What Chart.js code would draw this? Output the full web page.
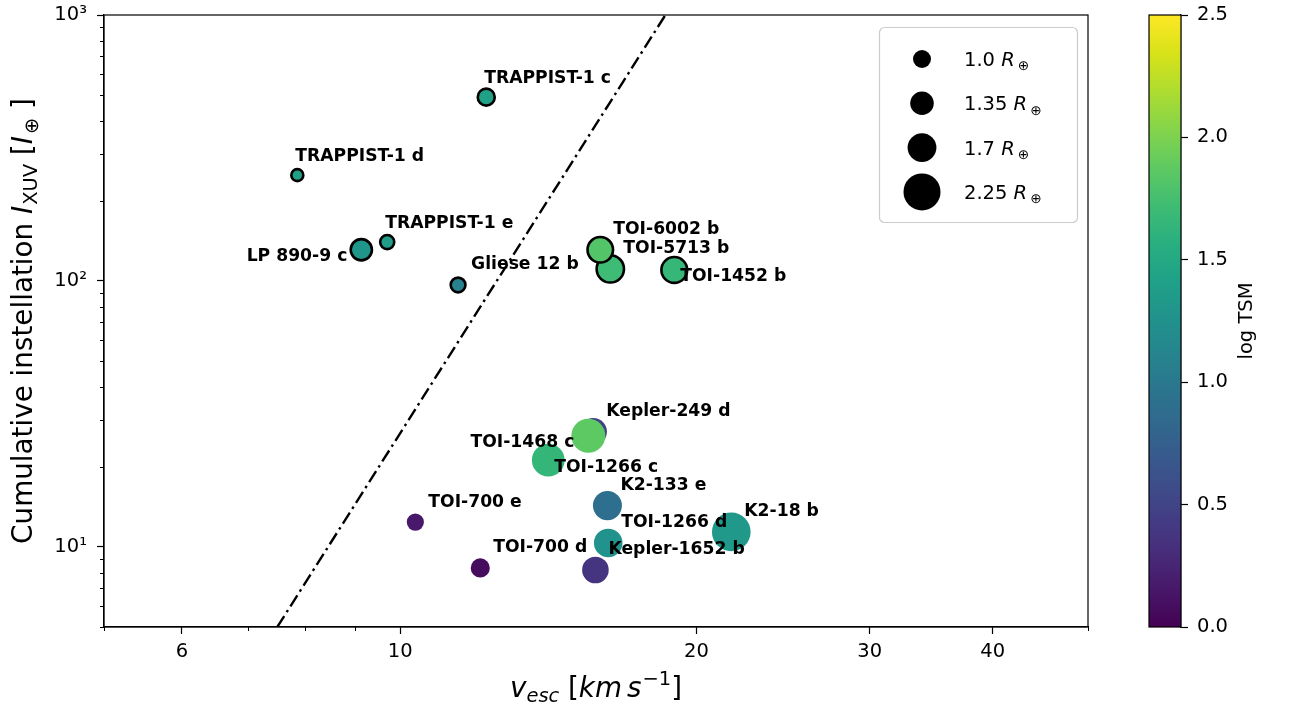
<!DOCTYPE html>
<html>
<head>
<meta charset="utf-8">
<script src="https://cdn.jsdelivr.net/npm/chart.js@4.4.1/dist/chart.umd.min.js"></script>
<style>
  html, body { margin: 0; padding: 0; background: #ffffff; }
  #wrap { width: 1289px; height: 709px; position: relative; }
  canvas { display: block; }
</style>
</head>
<body>
<div id="wrap"><canvas id="c" width="1289" height="709"></canvas></div>
<script>
// ---------------- DATA ----------------
const planetNames = ['TRAPPIST-1 d', 'TRAPPIST-1 e', 'LP 890-9 c', 'Gliese 12 b', 'TRAPPIST-1 c',
  'TOI-5713 b', 'TOI-6002 b', 'TOI-1452 b', 'TOI-700 e', 'TOI-700 d', 'Kepler-249 d',
  'TOI-1468 c', 'TOI-1266 c', 'K2-133 e', 'TOI-1266 d', 'Kepler-1652 b', 'K2-18 b'];
const vEsc = [7.86, 9.70, 9.13, 11.45, 12.23, 16.35, 15.97, 18.99, 10.36, 12.06, 15.71,
  15.53, 14.14, 16.24, 16.27, 15.79, 21.70];
const iXuv = [250, 140, 131, 96.6, 491, 111, 131, 110, 12.4, 8.34, 27.1,
  26.2, 21.2, 14.3, 10.35, 8.19, 11.39];
const radiusEarth = [0.79, 0.92, 1.37, 0.96, 1.10, 1.77, 1.65, 1.67, 0.95, 1.07, 1.60,
  2.05, 1.95, 1.71, 1.68, 1.55, 2.36];
const logTSM = [1.42, 1.36, 1.30, 1.08, 1.42, 1.71, 1.82, 1.66, 0.16, 0.08, 0.47,
  1.87, 1.65, 0.90, 1.26, 0.37, 1.32];
const outlined = [true, true, true, true, true, true, true, true, false, false, false,
  false, false, false, false, false, false];

// dash-dot boundary line
const shoreV = [7.5, 18.6];
const shoreI = [5, 1000];

// size legend
const legendRadii = [1.0, 1.35, 1.7, 2.25];
const legendLabels = ['1.0', '1.35', '1.7', '2.25'];

// ticks
const xMajorTicks = [6, 10, 20, 30, 40];
const xMinorTicks = [5, 7, 8, 9, 50];
const yMajorTicks = [10, 100, 1000];
const yMinorTicks = [5, 6, 7, 8, 9, 20, 30, 40, 50, 60, 70, 80, 90, 200, 300, 400, 500, 600, 700, 800, 900];

// ---------------- STYLE ----------------
const FONT = '"DejaVu Sans"';
const TICK_SIZE = 19.5;
const LABEL_SIZE = 27.8;
const ANN_SIZE = 17.2;
const LEG_SIZE = 19.5;

// label placement (annotation style), default 'upright'
const labelPlacement = {
  'TRAPPIST-1 c': 'above', 'TRAPPIST-1 d': 'above', 'TRAPPIST-1 e': 'above',
  'LP 890-9 c': 'left', 'TOI-1468 c': 'left',
  'TOI-1452 b': 'right', 'TOI-1266 c': 'right'
};
const PLACE = {
  upright: { dx: 13, dy: -20, align: 'left' },
  above:   { dx: -2, dy: -19, align: 'left' },
  left:    { dx: -14, dy: 7, align: 'right' },
  right:   { dx: 6, dy: 7, align: 'left' }
};

const VIRIDIS = ['#440154', '#48186a', '#472d7b', '#424086', '#3b528b', '#33638d', '#2c728e',
  '#26828e', '#21918c', '#1fa088', '#28ae80', '#3fbc73', '#5ec962', '#84d44b', '#addc30',
  '#d8e219', '#fde725'];
function hexToRgb(h) { return [parseInt(h.slice(1, 3), 16), parseInt(h.slice(3, 5), 16), parseInt(h.slice(5, 7), 16)]; }
function viridis(t) {
  t = Math.max(0, Math.min(1, t));
  const f = t * (VIRIDIS.length - 1);
  const i = Math.min(VIRIDIS.length - 2, Math.floor(f));
  const r = f - i;
  const a = hexToRgb(VIRIDIS[i]), b = hexToRgb(VIRIDIS[i + 1]);
  const c = a.map((v, k) => Math.round(v + (b[k] - v) * r));
  return `rgb(${c[0]},${c[1]},${c[2]})`;
}
const CB_MIN = 0, CB_MAX = 2.5;
function outerRadius(R) { return 9 * Math.pow(R, 0.89); }
const EDGE_W = 2.6;

// ---------------- rich text helper ----------------
function segFont(s, base) {
  const size = base * (s.scale || 1);
  return `${s.italic ? 'italic ' : ''}${s.bold ? 'bold ' : ''}${size}px ${FONT}`;
}
function drawRich(ctx, segs, x, y, rot, base, align) {
  ctx.save();
  ctx.translate(x, y);
  ctx.rotate(rot);
  ctx.textBaseline = 'alphabetic';
  ctx.textAlign = 'left';
  let w = 0;
  segs.forEach(s => { ctx.font = segFont(s, base); w += ctx.measureText(s.t).width + (s.gap || 0); });
  let cx = align === 'left' ? 0 : -w / 2;
  segs.forEach(s => {
    ctx.font = segFont(s, base);
    cx += (s.gap || 0);
    ctx.fillText(s.t, cx, (s.dy || 0) * base);
    cx += ctx.measureText(s.t).width;
  });
  ctx.restore();
}

// ---------------- plugins ----------------
const decorations = {
  id: 'decorations',
  beforeDatasetsDraw(chart) {
    const { ctx, scales } = chart;
    const cb = scales.cb;
    const bw = 32;
    const g = ctx.createLinearGradient(0, cb.bottom, 0, cb.top);
    for (let k = 0; k <= 64; k++) g.addColorStop(k / 64, viridis(k / 64));
    ctx.save();
    ctx.fillStyle = g;
    ctx.fillRect(cb.left - bw, cb.top, bw, cb.bottom - cb.top);
    ctx.strokeStyle = '#000';
    ctx.lineWidth = 1.2;
    ctx.strokeRect(cb.left - bw, cb.top, bw, cb.bottom - cb.top);
    ctx.restore();
  },
  afterDatasetsDraw(chart) {
    const { ctx, scales: { x, y } } = chart;
    ctx.save();
    ctx.font = `bold ${ANN_SIZE}px ${FONT}`;
    ctx.fillStyle = '#000';
    ctx.textBaseline = 'middle';
    planetNames.forEach((n, i) => {
      const px = x.getPixelForValue(vEsc[i]);
      const py = y.getPixelForValue(iXuv[i]);
      const p = PLACE[labelPlacement[n] || 'upright'];
      ctx.textAlign = p.align;
      ctx.fillText(n, px + p.dx, py + p.dy);
    });
    ctx.restore();
  },
  afterDraw(chart) {
    const { ctx, chartArea: a, scales: { x, y, cb } } = chart;
    ctx.save();
    ctx.strokeStyle = '#000';
    ctx.lineWidth = 1.2;
    ctx.strokeRect(a.left, a.top, a.right - a.left, a.bottom - a.top);
    ctx.lineWidth = 1;
    ctx.beginPath();
    xMinorTicks.forEach(v => {
      const px = Math.round(x.getPixelForValue(v)) + 0.5;
      ctx.moveTo(px, a.bottom); ctx.lineTo(px, a.bottom + 4);
    });
    yMinorTicks.forEach(v => {
      const py = Math.round(y.getPixelForValue(v)) + 0.5;
      ctx.moveTo(a.left - 4, py); ctx.lineTo(a.left, py);
    });
    ctx.stroke();
    ctx.fillStyle = '#000';

    drawRich(ctx, [
      { t: 'Cumulative instellation ' },
      { t: 'I', italic: true },
      { t: 'XUV', scale: 0.7, dy: 0.17, gap: 1 },
      { t: ' [' },
      { t: 'I', italic: true },
      { t: '\u2295', scale: 0.7, dy: 0.2, gap: 2 },
      { t: ' ]' }
    ], 32, (a.top + a.bottom) / 2, -Math.PI / 2, LABEL_SIZE, 'center');

    drawRich(ctx, [
      { t: 'v', italic: true },
      { t: 'esc', italic: true, scale: 0.7, dy: 0.17 },
      { t: ' [' },
      { t: 'km', italic: true },
      { t: 's', italic: true, gap: 5 },
      { t: '\u22121', scale: 0.7, dy: -0.42, gap: 1 },
      { t: ']' }
    ], (a.left + a.right) / 2, 697, 0, LABEL_SIZE, 'center');

    drawRich(ctx, [{ t: 'log TSM' }], 1252, (cb.top + cb.bottom) / 2, -Math.PI / 2, TICK_SIZE, 'center');

    const lw = 198, lh = 195;
    const lx = a.right - 11 - lw, ly = a.top + 12;
    ctx.beginPath();
    if (ctx.roundRect) ctx.roundRect(lx + 0.5, ly + 0.5, lw, lh, 5); else ctx.rect(lx + 0.5, ly + 0.5, lw, lh);
    ctx.fillStyle = 'rgba(255,255,255,0.85)';
    ctx.fill();
    ctx.strokeStyle = '#cccccc';
    ctx.lineWidth = 1.2;
    ctx.stroke();
    legendRadii.forEach((R, i) => {
      const cy = ly + 32 + i * 44.3;
      ctx.beginPath();
      ctx.arc(lx + 43, cy, outerRadius(R), 0, Math.PI * 2);
      ctx.fillStyle = '#000';
      ctx.fill();
      drawRich(ctx, [
        { t: legendLabels[i] + ' ' },
        { t: 'R', italic: true },
        { t: '\u2295', scale: 0.7, dy: 0.22, gap: 3 }
      ], lx + 85, cy + 7, 0, LEG_SIZE, 'left');
    });
    ctx.restore();
  }
};

// ---------------- chart ----------------
const sup = { 1: '\u00b9', 2: '\u00b2', 3: '\u00b3' };
const tickFont = { family: FONT, size: TICK_SIZE, lineHeight: 1 };
function noPad(s) { s.paddingTop = 0; s.paddingBottom = 0; s.paddingLeft = 0; s.paddingRight = 0; }

new Chart(document.getElementById('c'), {
  type: 'scatter',
  data: {
    datasets: [
      {
        type: 'line',
        data: shoreV.map((v, i) => ({ x: v, y: shoreI[i] })),
        borderColor: '#000',
        borderWidth: 2.4,
        borderDash: [13, 4.5, 2.5, 4.5],
        pointRadius: 0,
        fill: false,
        tension: 0,
        order: 2
      },
      {
        type: 'scatter',
        data: vEsc.map((v, i) => ({ x: v, y: iXuv[i] })),
        pointRadius: c => outerRadius(radiusEarth[c.dataIndex]) - (outlined[c.dataIndex] ? EDGE_W / 2 : 0),
        pointHoverRadius: c => outerRadius(radiusEarth[c.dataIndex]) - (outlined[c.dataIndex] ? EDGE_W / 2 : 0),
        pointBackgroundColor: c => viridis((logTSM[c.dataIndex] - CB_MIN) / (CB_MAX - CB_MIN)),
        pointBorderColor: '#000',
        pointBorderWidth: c => outlined[c.dataIndex] ? EDGE_W : 0,
        order: 1
      }
    ]
  },
  options: {
    responsive: false,
    animation: false,
    events: [],
    layout: { autoPadding: false, padding: { top: 15, left: 0, right: 0, bottom: 0 } },
    plugins: { legend: { display: false }, tooltip: { enabled: false } },
    scales: {
      x: {
        type: 'logarithmic', position: 'bottom', min: 5, max: 50,
        afterBuildTicks: s => { s.ticks = xMajorTicks.map(v => ({ value: v })); },
        afterFit: s => { s.height = 82; noPad(s); },
        ticks: { autoSkip: false, maxRotation: 0, minRotation: 0, padding: 8, color: '#000', font: tickFont,
          callback: v => String(v) },
        grid: { display: true, drawOnChartArea: false, drawTicks: true, tickLength: 7, tickColor: '#000', tickWidth: 1.2 },
        border: { display: true, color: '#000', width: 1.2 }
      },
      y: {
        type: 'logarithmic', position: 'left', min: 5, max: 1000,
        afterBuildTicks: s => { s.ticks = yMajorTicks.map(v => ({ value: v })); },
        afterFit: s => { s.width = 104; noPad(s); },
        ticks: { autoSkip: false, padding: 10, color: '#000', font: tickFont,
          callback: v => '10' + sup[Math.round(Math.log10(v))] },
        grid: { display: true, drawOnChartArea: false, drawTicks: true, tickLength: 7, tickColor: '#000', tickWidth: 1.2 },
        border: { display: true, color: '#000', width: 1.2 }
      },
      gap: {
        type: 'linear', axis: 'y', position: 'right', min: 0, max: 1, weight: 0,
        afterFit: s => { s.width = 93; noPad(s); },
        ticks: { display: false },
        grid: { display: false, drawTicks: false },
        border: { display: false }
      },
      cb: {
        type: 'linear', axis: 'y', position: 'right', min: CB_MIN, max: CB_MAX, weight: 1,
        afterFit: s => { s.width = 108; noPad(s); },
        ticks: { stepSize: 0.5, padding: 9, color: '#000', font: tickFont, callback: v => Number(v).toFixed(1) },
        grid: { display: true, drawOnChartArea: false, drawTicks: true, tickLength: 7, tickColor: '#000', tickWidth: 1.2 },
        border: { display: true, color: '#000', width: 1.2 }
      }
    }
  },
  plugins: [decorations]
});
</script>
</body>
</html>
